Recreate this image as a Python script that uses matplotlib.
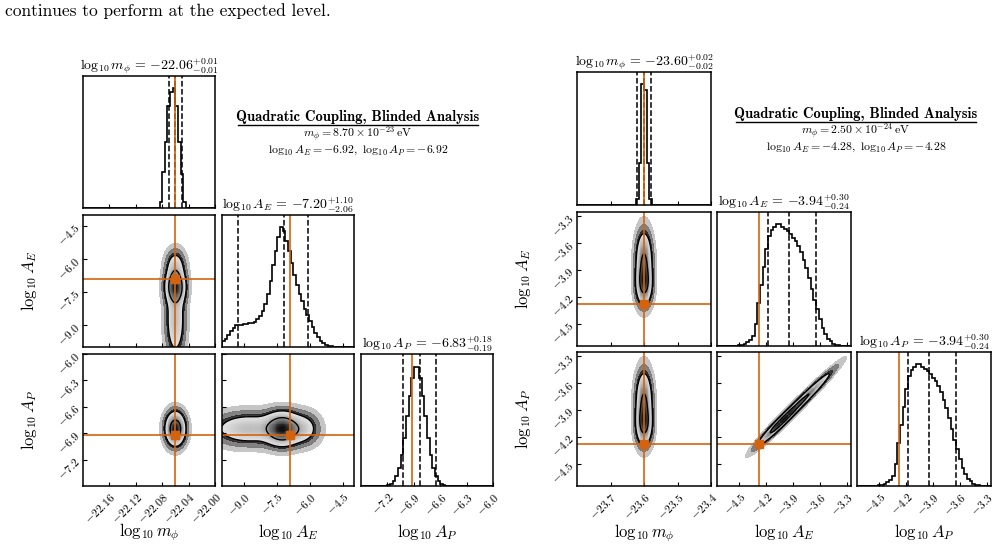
import numpy as np
import matplotlib
matplotlib.use("Agg")
import matplotlib.pyplot as plt

plt.rcParams['font.family'] = 'serif'
plt.rcParams['font.serif'] = ['cmr10', 'DejaVu Serif']
plt.rcParams['mathtext.fontset'] = 'cm'
plt.rcParams['axes.formatter.use_mathtext'] = True
plt.rcParams['axes.unicode_minus'] = True

ORANGE = '#d3630f'
W, H = 1002, 547

LABELS = [r'$\log_{10} m_\phi$', r'$\log_{10} A_E$', r'$\log_{10} A_P$']

# ---------------- left corner (m=8.70e-23) ----------------
L_RANGES = [(-22.20, -22.00), (-10.0, -4.0), (-7.5, -6.0)]
L_TICKS = [[-22.16, -22.12, -22.08, -22.04, -22.00],
           [-9.0, -7.5, -6.0, -4.5],
           [-7.2, -6.9, -6.6, -6.3, -6.0]]
L_TRUTH = [-22.06, -6.92, -6.92]
L_QUANT = [[-22.07, -22.06, -22.05], [-9.26, -7.20, -6.10], [-7.02, -6.83, -6.65]]
L_TITLES = [r'$\log_{10} m_\phi \,=\, {-22.06}^{+0.01}_{-0.01}$',
            r'$\log_{10} A_E \,=\, {-7.20}^{+1.10}_{-2.06}$',
            r'$\log_{10} A_P \,=\, {-6.83}^{+0.18}_{-0.19}$']
L_HIST_M = [0]*29 + [0.05, 0.3, 0.55, 0.85, 0.97, 1.0, 0.85, 0.55, 0.28, 0.05] + [0]*11
L_HIST_AE = [0.05, 0.07, 0.10, 0.13, 0.16, 0.18, 0.18, 0.18, 0.19, 0.19, 0.20, 0.20, 0.21,
             0.23, 0.26, 0.30, 0.36, 0.44, 0.55, 0.68, 0.80, 0.92, 1.0, 0.97, 0.88, 0.80,
             0.70, 0.60, 0.52, 0.44, 0.38, 0.32, 0.27, 0.22, 0.17, 0.12, 0.08, 0.05, 0.03,
             0.02, 0.01, 0.005] + [0]*8
L_HIST_AP = [0]*9 + [0.003, 0.007, 0.017, 0.039, 0.08, 0.15, 0.26, 0.40, 0.58, 0.75, 0.90,
                     0.99, 0.99, 0.90, 0.75, 0.58, 0.40, 0.26, 0.15, 0.08, 0.039, 0.017,
                     0.007] + [0]*18
# 2D density model components (weight, mean, sd)
L_M_MIX = [(1.0, -22.06, 0.008)]
L_AE_MIX = [(1.0, -7.25, 0.45), (0.35, -8.8, 0.9), (0.25, -6.3, 0.4)]
L_AP_MIX = [(1.0, -6.85, 0.1)]

# ---------------- right corner (m=2.50e-24) ----------------
R_RANGES = [(-23.80, -23.40), (-4.75, -3.25), (-4.75, -3.25)]
R_TICKS = [[-23.7, -23.6, -23.5, -23.4],
           [-4.5, -4.2, -3.9, -3.6, -3.3],
           [-4.5, -4.2, -3.9, -3.6, -3.3]]
R_TRUTH = [-23.60, -4.28, -4.28]
R_QUANT = [[-23.62, -23.60, -23.58], [-4.18, -3.94, -3.64], [-4.18, -3.94, -3.64]]
R_TITLES = [r'$\log_{10} m_\phi \,=\, {-23.60}^{+0.02}_{-0.02}$',
            r'$\log_{10} A_E \,=\, {-3.94}^{+0.30}_{-0.24}$',
            r'$\log_{10} A_P \,=\, {-3.94}^{+0.30}_{-0.24}$']
R_HIST_M = [0]*22 + [0.05, 0.35, 1.0, 0.95, 0.35, 0.05] + [0]*22
R_HIST_AE = [0]*8 + [0.005, 0.01, 0.02, 0.03, 0.05, 0.08, 0.18, 0.35, 0.5, 0.65, 0.8, 0.9,
                     0.95, 0.98, 1.0, 1.0, 0.98, 0.96, 0.94, 0.92, 0.89, 0.86, 0.82, 0.77,
                     0.71, 0.64, 0.56, 0.47, 0.38, 0.30, 0.22, 0.15, 0.10, 0.06, 0.04, 0.02,
                     0.01, 0.005] + [0]*4
R_HIST_AP = R_HIST_AE
R_M_MIX = [(1.0, -23.60, 0.013)]
R_AE_MIX = [(1.0, -4.05, 0.13), (0.8, -3.78, 0.17)]
R_AP_MIX = R_AE_MIX
R_DIAG_SD = 0.025

L_COLS = [(83, 215), (222, 354), (361, 493)]
L_ROWS = [(76, 208), (215, 347), (354, 486)]
R_COLS = [(577, 711), (717, 851), (857, 991)]
R_ROWS = [(72, 205), (212, 346), (352, 486)]

fig = plt.figure(figsize=(W/100, H/100), dpi=100)


def add_ax(c, r):
    return fig.add_axes([c[0]/W, 1 - r[1]/H, (c[1]-c[0])/W, (r[1]-r[0])/H])


def mix(x, comps):
    out = np.zeros_like(x)
    for w, mu, sd in comps:
        out += w*np.exp(-0.5*((x-mu)/sd)**2)
    return out


def levels_for(D, fracs):
    flat = np.sort(D.ravel())[::-1]
    cs = np.cumsum(flat); cs /= cs[-1]
    return sorted([flat[np.searchsorted(cs, f)] for f in fracs])


def style(ax, xr, yr, xt, yt):
    ax.set_xlim(xr); ax.set_ylim(yr)
    ax.tick_params(direction='in', length=3, labelsize=8.5)
    for s in ax.spines.values():
        s.set_linewidth(1.1)
    ax.set_xticks(xt)
    if yt is not None:
        ax.set_yticks(yt)


def draw_2d(ax, D, X, Y):
    lo, hi = levels_for(D, [0.393, 0.865])
    mx = D.max()
    ax.contourf(X, Y, D, levels=[lo*0.08, lo*0.3, lo*0.7, lo],
                colors=['0.75', '0.45', '0.15'], alpha=0.9)
    Dm = np.ma.masked_less(D, lo)
    ax.pcolormesh(X, Y, Dm, cmap='Greys', vmin=-0.1*mx, vmax=mx*1.05,
                  shading='auto')
    ax.contour(X, Y, D, levels=[lo, hi], colors='k', linewidths=1.0)


def corner(cols, rows, ranges, ticks, truth, quant, titles, hists, dens_fn, ylab_x):
    n = 3
    for i in range(n):
        for j in range(i+1):
            ax = add_ax(cols[j], rows[i])
            if i == j:
                h = np.array(hists[i], float)
                edges = np.linspace(ranges[i][0], ranges[i][1], len(h)+1)
                ax.stairs(h, edges, color='k', lw=1.2)
                for q in quant[i]:
                    ax.axvline(q, color='k', ls='--', lw=1.1)
                ax.axvline(truth[i], color=ORANGE, lw=1.2)
                style(ax, ranges[i], (0, 1.1), ticks[i], [])
                ax.set_title(titles[i], fontsize=10, pad=2)
            else:
                xs = np.linspace(ranges[j][0], ranges[j][1], 150)
                ys = np.linspace(ranges[i][0], ranges[i][1], 150)
                X, Y = np.meshgrid(xs, ys)
                draw_2d(ax, dens_fn(j, i, X, Y), X, Y)
                ax.axvline(truth[j], color=ORANGE, lw=1.2)
                ax.axhline(truth[i], color=ORANGE, lw=1.2)
                ax.plot(truth[j], truth[i], 's', color=ORANGE, ms=6)
                style(ax, ranges[j], ranges[i], ticks[j], ticks[i])
                if j == 0:
                    ax.set_ylabel(LABELS[i], fontsize=12)
                    ax.yaxis.set_label_coords(ylab_x, 0.5)
                    plt.setp(ax.get_yticklabels(), rotation=45, ha='right', va='center',
                             rotation_mode='anchor')
                else:
                    ax.set_yticklabels([])
            if i == n-1:
                plt.setp(ax.get_xticklabels(), rotation=45, ha='right', va='top',
                         rotation_mode='anchor')
                ax.set_xlabel(LABELS[j], fontsize=12)
                ax.xaxis.set_label_coords(0.5, -0.27)
            else:
                ax.set_xticklabels([])


def left_dens(j, i, X, Y):
    mixes = [L_M_MIX, L_AE_MIX, L_AP_MIX]
    return mix(X, mixes[j]) * mix(Y, mixes[i])


def right_dens(j, i, X, Y):
    mixes = [R_M_MIX, R_AE_MIX, R_AP_MIX]
    if j == 1 and i == 2:
        t = (X + Y) / 2
        d = (Y - X) / np.sqrt(2)
        return mix(t, R_AE_MIX) * np.exp(-0.5*(d/R_DIAG_SD)**2)
    return mix(X, mixes[j]) * mix(Y, mixes[i])


corner(L_COLS, L_ROWS, L_RANGES, L_TICKS, L_TRUTH, L_QUANT, L_TITLES,
       [L_HIST_M, L_HIST_AE, L_HIST_AP], left_dens, -0.33)
corner(R_COLS, R_ROWS, R_RANGES, R_TICKS, R_TRUTH, R_QUANT, R_TITLES,
       [R_HIST_M, R_HIST_AE, R_HIST_AP], right_dens, -0.33)


def annot(xc, y0, lines):
    fig.text(xc/W, 1 - y0/H, 'Quadratic Coupling, Blinded Analysis',
             family=['cmb10', 'DejaVu Serif'], ha='center', va='baseline', fontsize=10.5)
    fig.add_artist(plt.Line2D([(xc-120)/W, (xc+120)/W], [1-(y0+3.5)/H]*2, color='k', lw=1.0))
    for k, s in enumerate(lines):
        fig.text(xc/W, 1 - (y0+17+15*k)/H, s, ha='center', va='baseline', fontsize=8.5)


annot(358, 121, [r'$m_\phi = 8.70\times10^{-23}\,\mathrm{eV}$',
                 r'$\log_{10}A_E = -6.92,\ \log_{10}A_P = -6.92$'])
annot(856, 118, [r'$m_\phi = 2.50\times10^{-24}\,\mathrm{eV}$',
                 r'$\log_{10}A_E = -4.28,\ \log_{10}A_P = -4.28$'])

fig.text(5/W, 1 - 16/H, 'continues to perform at the expected level.', fontsize=12.5,
         ha='left', va='baseline')

fig.savefig('out.png', dpi=100)
